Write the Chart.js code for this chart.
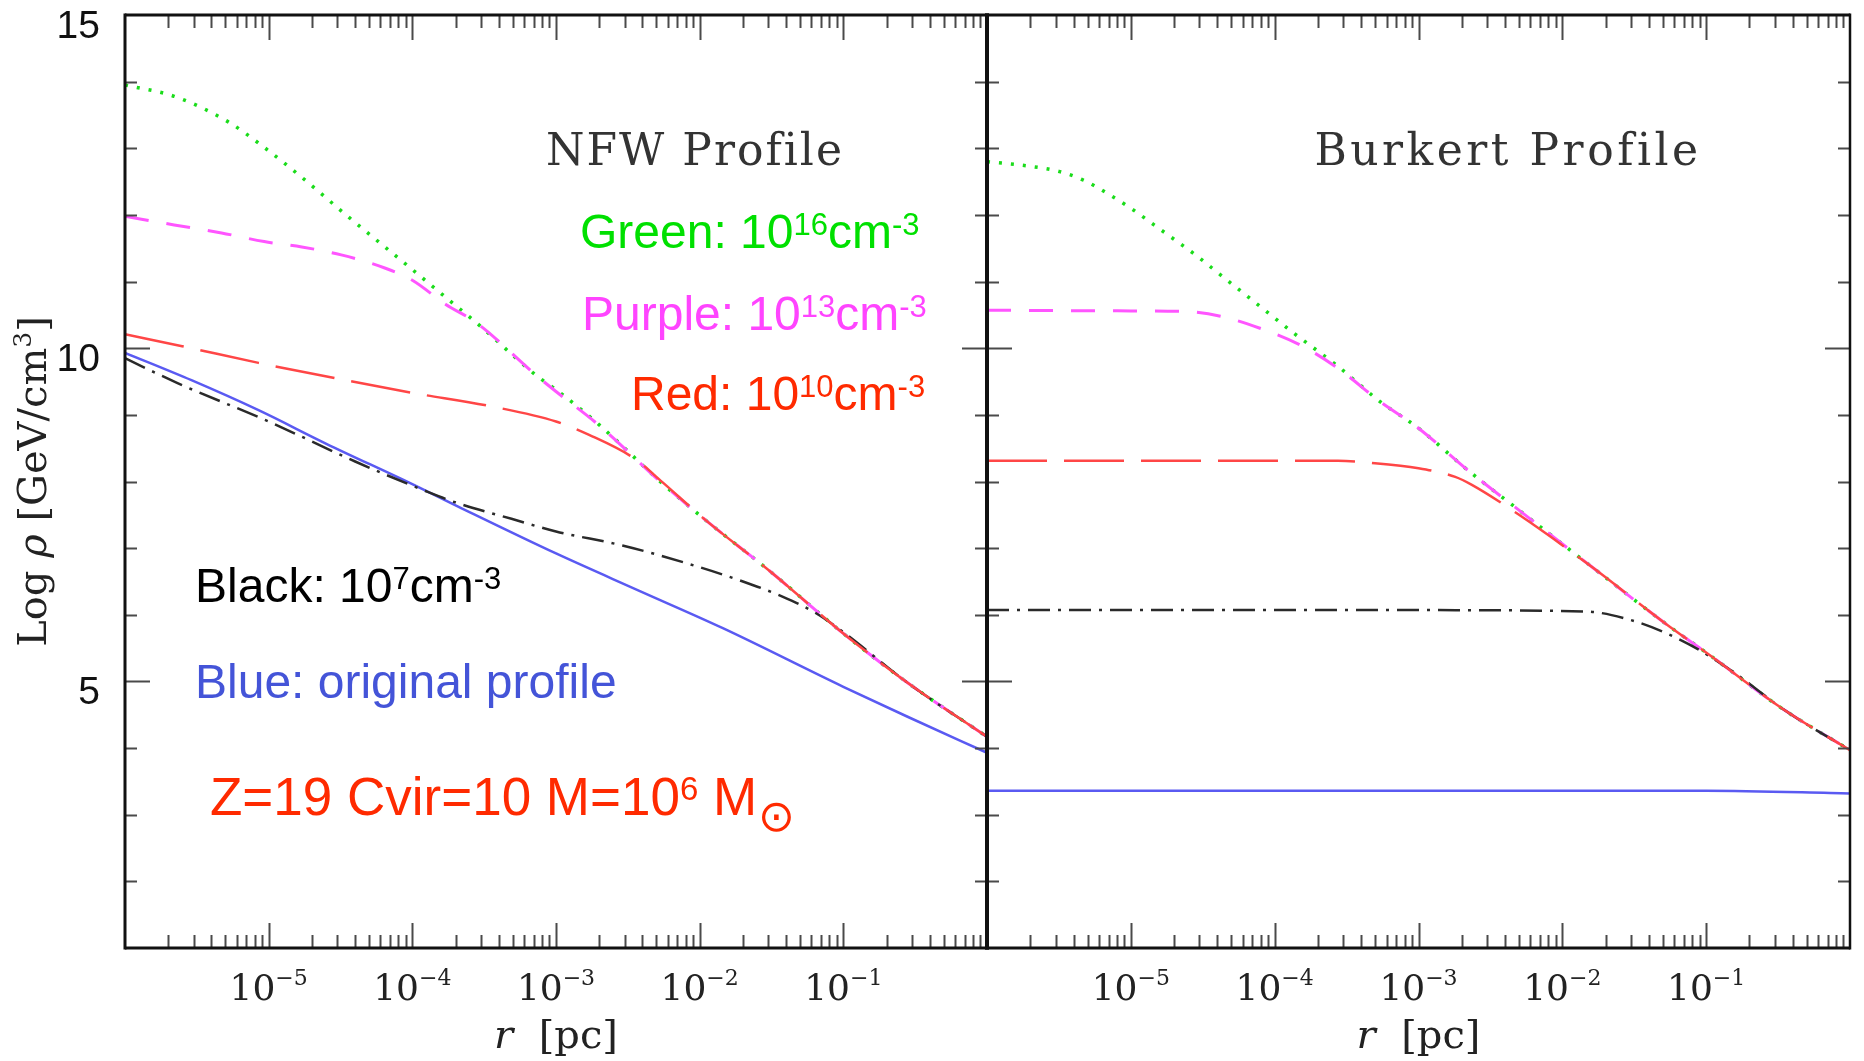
<!DOCTYPE html>
<html>
<head>
<meta charset="utf-8">
<script src="https://cdn.jsdelivr.net/npm/chart.js@4.4.1/dist/chart.umd.min.js"></script>
<style>
  html, body { margin: 0; padding: 0; background: #fff; }
  body { width: 1864px; height: 1061px; position: relative; overflow: hidden; }
  canvas { position: absolute; top: 0; }
  #nfw { left: 0; }
  #burkert { left: 975px; }
</style>
</head>
<body>
<canvas id="nfw" width="1000" height="1061"></canvas>
<canvas id="burkert" width="889" height="1061"></canvas>
<script>
// r in pc, values are log10(rho / GeV cm^-3)
const yTicks = [5, 10, 15];
const xTickExps = [-5, -4, -3, -2, -1];

// --- NFW profile (left panel)
const nfwGreenR = [1e-6, 2.2e-6, 5.2e-6, 9.1e-6, 1.8e-5, 3.5e-5, 5.8e-5, 1e-4, 1.9e-4, 2.8e-4, 7.4e-4, 1e-3, 2e-3, 5.5e-3, 1.1e-2, 3.1e-2, 0.1, 0.28, 1];
const nfwGreen = [13.95, 13.78, 13.40, 13.03, 12.52, 11.99, 11.60, 11.18, 10.68, 10.38, 9.58, 9.38, 8.85, 7.97, 7.42, 6.65, 5.72, 4.98, 4.17];

const nfwPurpleR = [1e-6, 2.2e-6, 4.7e-6, 9.3e-6, 1.7e-5, 3.2e-5, 6.5e-5, 1e-4, 1.7e-4, 2.8e-4, 7.4e-4, 1e-3, 2e-3, 5.5e-3, 1.1e-2, 3.1e-2, 0.1, 0.28, 1];
const nfwPurple = [11.98, 11.85, 11.73, 11.60, 11.52, 11.40, 11.20, 11.02, 10.66, 10.38, 9.58, 9.35, 8.84, 7.97, 7.42, 6.65, 5.72, 4.98, 4.17];

const nfwRedR = [1e-6, 2.5e-6, 8.5e-6, 2.9e-5, 1e-4, 3.5e-4, 1e-3, 1.7e-3, 3.6e-3, 5.5e-3, 1.1e-2, 3.1e-2, 0.1, 0.28, 1];
const nfwRed = [10.21, 10.03, 9.78, 9.55, 9.33, 9.13, 8.90, 8.70, 8.33, 7.99, 7.42, 6.65, 5.72, 4.98, 4.17];

const nfwBlackR = [1e-6, 2.3e-6, 1e-5, 4e-5, 1.26e-4, 2.1e-4, 4.9e-4, 1e-3, 2.9e-3, 8.5e-3, 2e-2, 3.8e-2, 6.5e-2, 0.1, 0.28, 1];
const nfwBlack = [9.85, 9.48, 8.90, 8.30, 7.85, 7.67, 7.44, 7.25, 7.04, 6.76, 6.50, 6.27, 6.02, 5.74, 4.98, 4.17];

const nfwBlueR = [1e-6, 2.9e-6, 8.5e-6, 2.5e-5, 1e-4, 2.1e-4, 1e-3, 3.8e-3, 1.45e-2, 0.1, 0.28, 1];
const nfwBlue = [9.93, 9.52, 9.07, 8.57, 7.96, 7.62, 6.92, 6.36, 5.80, 4.92, 4.47, 3.93];

// --- Burkert profile (right panel)
const burGreenR = [1e-6, 2e-6, 3.2e-6, 4.7e-6, 6.9e-6, 1e-5, 1.45e-5, 2.1e-5, 2.9e-5, 4.2e-5, 5.8e-5, 8.1e-5, 1.35e-4, 2.75e-4, 5.4e-4, 1e-3, 2.2e-3, 5.5e-3, 1.6e-2, 5.2e-2, 0.105, 0.35, 1];
const burGreen = [12.80, 12.73, 12.65, 12.52, 12.32, 12.10, 11.85, 11.60, 11.38, 11.10, 10.86, 10.61, 10.23, 9.73, 9.20, 8.80, 8.17, 7.50, 6.72, 5.87, 5.40, 4.57, 3.97];

const burPurpleR = [1e-6, 1e-5, 2.45e-5, 4.2e-5, 7.9e-5, 1.5e-4, 2.75e-4, 5.4e-4, 1e-3, 2.2e-3, 5.5e-3, 1.6e-2, 5.2e-2, 0.105, 0.35, 1];
const burPurple = [10.57, 10.56, 10.55, 10.48, 10.30, 10.05, 9.70, 9.20, 8.80, 8.17, 7.50, 6.72, 5.87, 5.40, 4.57, 3.97];

const burRedR = [1e-6, 2.75e-4, 4.7e-4, 1e-3, 1.8e-3, 2.35e-3, 5e-3, 1.6e-2, 5.2e-2, 0.105, 0.35, 1];
const burRed = [8.31, 8.31, 8.28, 8.20, 8.07, 7.95, 7.50, 6.72, 5.87, 5.40, 4.57, 3.97];

const burBlackR = [1e-6, 1e-3, 1.45e-2, 3e-2, 5.2e-2, 8.5e-2, 0.126, 0.16, 0.35, 1];
const burBlack = [6.07, 6.07, 6.05, 5.92, 5.73, 5.50, 5.27, 5.12, 4.57, 3.97];

const burBlueR = [1e-6, 0.1, 1];
const burBlue = [3.36, 3.36, 3.32];

const SANS = '"Liberation Sans", Arial, sans-serif';
const SERIF = '"DejaVu Serif", serif';

function pts(r, v) {
  return r.map((x, i) => ({ x: x, y: v[i] }));
}

// line looks, kept apart from the values
const looks = {
  green:  { borderColor: '#1adc1a', borderWidth: 3.5, borderDash: [3, 9],          order: 3 },
  purple: { borderColor: '#ff55ff', borderWidth: 3,   borderDash: [24, 18],        order: 2 },
  red:    { borderColor: '#ff4646', borderWidth: 2.5, borderDash: [60, 17],        order: 0 },
  black:  { borderColor: '#2a2a2a', borderWidth: 2.5, borderDash: [22, 8, 3, 8],   order: 1 },
  blue:   { borderColor: '#5a5af2', borderWidth: 2.5, borderDash: [],              order: 4 }
};

function ds(name, r, v) {
  return Object.assign({
    label: name,
    data: pts(r, v),
    pointRadius: 0,
    fill: false,
    cubicInterpolationMode: 'monotone'
  }, looks[name]);
}

// text with raised parts: [text, font, dy]
function rich(ctx, parts, x, y, align) {
  let w = 0;
  parts.forEach(p => { ctx.font = p[1]; w += ctx.measureText(p[0]).width; });
  let cx = align === 'center' ? x - w / 2 : (align === 'right' ? x - w : x);
  ctx.textAlign = 'left';
  ctx.textBaseline = 'alphabetic';
  parts.forEach(p => {
    ctx.font = p[1];
    ctx.fillText(p[0], cx, y + (p[2] || 0));
    cx += ctx.measureText(p[0]).width;
  });
  return cx;
}

function drawFrame(chart, leftW, rightW) {
  const { ctx, chartArea: a } = chart;
  const x = chart.scales.x, y = chart.scales.y;
  ctx.save();
  ctx.strokeStyle = '#4a4a4a';
  ctx.lineWidth = 2;
  ctx.beginPath();
  for (let v = y.min + 1; v < y.max; v++) {
    const py = Math.round(y.getPixelForValue(v)) + 0.5;
    const len = v % 5 === 0 ? 25 : 12;
    ctx.moveTo(a.left, py); ctx.lineTo(a.left + len, py);
    ctx.moveTo(a.right, py); ctx.lineTo(a.right - len, py);
  }
  for (let e = -6; e < 0; e++) {
    for (let m = 1; m <= 9; m++) {
      if (e === -6 && m === 1) continue;
      const px = Math.round(x.getPixelForValue(m * Math.pow(10, e))) + 0.5;
      const len = m === 1 ? 25 : 13;
      ctx.moveTo(px, a.top); ctx.lineTo(px, a.top + len);
      ctx.moveTo(px, a.bottom); ctx.lineTo(px, a.bottom - len);
    }
  }
  ctx.stroke();

  ctx.strokeStyle = '#111';
  ctx.lineWidth = 3;
  ctx.beginPath();
  ctx.moveTo(a.left, a.top); ctx.lineTo(a.right, a.top);
  ctx.moveTo(a.left, a.bottom); ctx.lineTo(a.right, a.bottom);
  ctx.stroke();
  ctx.lineWidth = leftW;
  ctx.beginPath(); ctx.moveTo(a.left, a.top - 1.5); ctx.lineTo(a.left, a.bottom + 1.5); ctx.stroke();
  ctx.lineWidth = rightW;
  ctx.beginPath(); ctx.moveTo(a.right, a.top - 1.5); ctx.lineTo(a.right, a.bottom + 1.5); ctx.stroke();

  // x tick labels and title
  ctx.fillStyle = '#222';
  xTickExps.forEach(e => {
    const px = x.getPixelForValue(Math.pow(10, e));
    rich(ctx, [['10', '36px ' + SERIF], ['\u2212' + Math.abs(e), '22px ' + SERIF, -15]], px, 1000, 'center');
  });
  rich(ctx, [['r', 'italic 40px ' + SERIF], ['  [pc]', '40px ' + SERIF]], (a.left + a.right) / 2, 1048, 'center');
  ctx.restore();
}

function panelTitle(ctx, text, cx, spacing) {
  ctx.save();
  ctx.fillStyle = '#333';
  ctx.font = '44px ' + SERIF;
  ctx.letterSpacing = spacing + 'px';
  ctx.textAlign = 'center';
  ctx.fillText(text, cx, 165);
  ctx.restore();
}

const nfwDecor = {
  id: 'nfwDecor',
  afterDatasetsDraw(chart) {
    const { ctx, chartArea: a } = chart;
    const y = chart.scales.y;
    drawFrame(chart, 3, 4);

    ctx.save();
    ctx.fillStyle = '#111';
    ctx.font = '39px ' + SANS;
    ctx.textAlign = 'right';
    yTicks.forEach(v => ctx.fillText(String(v), 100, y.getPixelForValue(v) + 23));

    ctx.save();
    ctx.fillStyle = '#222';
    ctx.translate(46, (a.top + a.bottom) / 2);
    ctx.rotate(-Math.PI / 2);
    rich(ctx, [['Log ', '40px ' + SERIF], ['\u03C1', 'italic 40px ' + SERIF], [' [GeV/cm', '40px ' + SERIF],
               ['3', '25px ' + SERIF, -15], [']', '40px ' + SERIF]], 0, 0, 'center');
    ctx.restore();

    panelTitle(ctx, 'NFW Profile', a.left + 570, 2);

    const big = '48px ' + SANS, sup = '31px ' + SANS;
    ctx.fillStyle = '#00e000';
    rich(ctx, [['Green: 10', big], ['16', sup, -13], ['cm', big], ['-3', sup, -13]], 580, 248);
    ctx.fillStyle = '#ff44ff';
    rich(ctx, [['Purple: 10', big], ['13', sup, -13], ['cm', big], ['-3', sup, -13]], 582, 330);
    ctx.fillStyle = '#ff2a00';
    rich(ctx, [['Red: 10', big], ['10', sup, -13], ['cm', big], ['-3', sup, -13]], 631, 410);
    ctx.fillStyle = '#000';
    rich(ctx, [['Black: 10', big], ['7', sup, -13], ['cm', big], ['-3', sup, -13]], 195, 602);
    ctx.fillStyle = '#4454d8';
    rich(ctx, [['Blue: original profile', '48px ' + SANS]], 195, 698);
    ctx.fillStyle = '#ff2a00';
    const end = rich(ctx, [['Z=19 Cvir=10 M=10', '53px ' + SANS], ['6', '33px ' + SANS, -15], [' M', '53px ' + SANS]], 210, 815);
    ctx.font = '44px "DejaVu Sans", sans-serif';
    ctx.textBaseline = 'middle';
    ctx.fillText('\u2299', end + 1, 820);
    ctx.restore();
  }
};

const burDecor = {
  id: 'burDecor',
  afterDatasetsDraw(chart) {
    drawFrame(chart, 4, 2.5);
    panelTitle(chart.ctx, 'Burkert Profile', chart.chartArea.left + 521, 3.5);
  }
};

function makeChart(id, datasets, padding, decor) {
  return new Chart(document.getElementById(id).getContext('2d'), {
    type: 'line',
    data: { datasets: datasets },
    options: {
      responsive: false,
      animation: false,
      devicePixelRatio: 1,
      events: [],
      layout: { padding: padding },
      plugins: { legend: { display: false }, tooltip: { enabled: false } },
      scales: {
        x: { type: 'logarithmic', min: 1e-6, max: 1, display: false },
        y: { type: 'linear', min: 1, max: 15, display: false }
      }
    },
    plugins: [decor]
  });
}

makeChart('nfw', [
  ds('red', nfwRedR, nfwRed),
  ds('black', nfwBlackR, nfwBlack),
  ds('purple', nfwPurpleR, nfwPurple),
  ds('green', nfwGreenR, nfwGreen),
  ds('blue', nfwBlueR, nfwBlue)
], { left: 125, right: 13, top: 15, bottom: 113 }, nfwDecor);

makeChart('burkert', [
  ds('red', burRedR, burRed),
  ds('black', burBlackR, burBlack),
  ds('purple', burPurpleR, burPurple),
  ds('green', burGreenR, burGreen),
  ds('blue', burBlueR, burBlue)
], { left: 12, right: 14, top: 15, bottom: 113 }, burDecor);
</script>
</body>
</html>
